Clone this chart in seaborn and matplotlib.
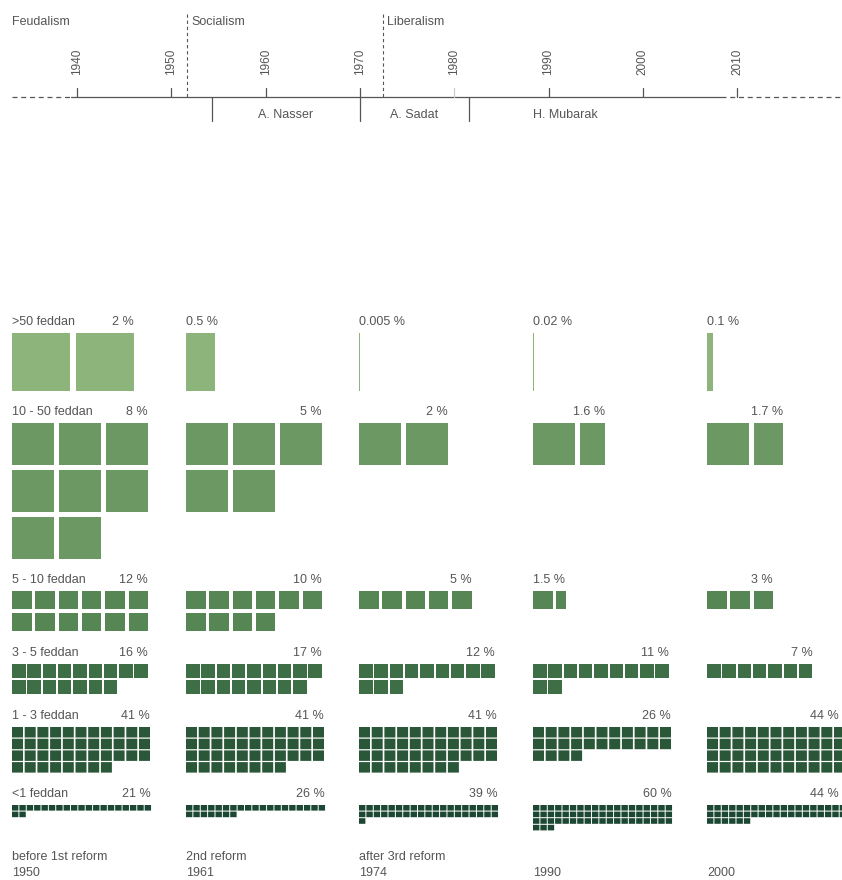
import matplotlib
matplotlib.use('Agg')
import matplotlib.pyplot as plt
from matplotlib.patches import Rectangle
import seaborn as sns

# ── data ────────────────────────────────────────────────────
eras = ['Feudalism', 'Socialism', 'Liberalism']
era_starts = [1936.0, 1951.7, 1972.4]
decades = [1940, 1950, 1960, 1970, 1980, 1990, 2000, 2010]
presidents = ['A. Nasser', 'A. Sadat', 'H. Mubarak']
pres_bounds = [1954.3, 1970.0, 1981.6, 2001.9]

period_names = ['before 1st reform', '2nd reform', 'after 3rd reform', '', '']
period_years = ['1950', '1961', '1974', '1990', '2000']

categories = ['>50 feddan', '10 - 50 feddan', '5 - 10 feddan',
              '3 - 5 feddan', '1 - 3 feddan', '<1 feddan']
share_over50 = [2, 0.5, 0.005, 0.02, 0.1]
share_10_50 = [8, 5, 2, 1.6, 1.7]
share_5_10 = [12, 10, 5, 1.5, 3]
share_3_5 = [16, 17, 12, 11, 7]
share_1_3 = [41, 41, 41, 26, 44]
share_under1 = [21, 26, 39, 60, 44]
shares = [share_over50, share_10_50, share_5_10, share_3_5, share_1_3, share_under1]

# ── layout (pixels) ─────────────────────────────────────────
col_x = [12, 186, 359, 533, 707]
# ncols, pitch x, pitch y, cell w, cell h, top
cells = [
    (2, 64.0, 64.0, 58.0, 58.0, 333),
    (3, 47.0, 47.0, 42.0, 42.0, 423),
    (6, 23.3, 22.0, 19.5, 18.0, 591),
    (9, 15.3, 16.5, 13.5, 14.0, 664),
    (11, 12.7, 11.7, 11.0, 10.5, 727),
    (19, 7.37, 6.6, 6.4, 5.6, 805),
]
colors = ['#8db57b', '#6c9864', '#558654', '#3d6e45', '#2a5738', '#1b4733']
text_c = '#555555'
line_c = '#555555'

sns.set_theme(style='white')
plt.rcParams['font.family'] = ['Liberation Sans', 'DejaVu Sans']

fig = plt.figure(figsize=(8.42, 8.80), dpi=100)
ax = fig.add_axes([0, 0, 1, 1])
ax.set_xlim(0, 842)
ax.set_ylim(880, 0)
ax.axis('off')

fs = 9


def yx(year):
    return 77 + (year - 1940) * 9.43


# ── timeline ────────────────────────────────────────────────
base_y = 97
ax.plot([12, yx(1939.4)], [base_y, base_y], color=line_c, lw=0.9, ls=(0, (4, 3)))
ax.plot([yx(1939.4), yx(2008.3)], [base_y, base_y], color=line_c, lw=0.9)
ax.plot([yx(2008.3), 842], [base_y, base_y], color=line_c, lw=0.9, ls=(0, (4, 3)))
for d in decades:
    c = '#cccccc' if d == 1980 else line_c
    ax.plot([yx(d), yx(d)], [base_y - 9, base_y], color=c, lw=0.9)
    ax.text(yx(d), 62, str(d), rotation=90, ha='center', va='center',
            fontsize=8.5, color=text_c)
for i, name in enumerate(eras):
    if i == 0:
        ax.text(12, 22, name, ha='left', va='center', fontsize=fs, color=text_c)
    else:
        x = yx(era_starts[i])
        ax.plot([x, x], [14, base_y], color=line_c, lw=0.8, ls=(0, (3, 2.5)))
        ax.text(x + 4, 22, name, ha='left', va='center', fontsize=fs, color=text_c)
for b in pres_bounds[:-1]:
    ax.plot([yx(b), yx(b)], [base_y, 121], color=line_c, lw=0.9)
for i, name in enumerate(presidents):
    xc = (yx(pres_bounds[i]) + yx(pres_bounds[i + 1])) / 2
    ax.text(xc, 115, name, ha='center', va='center', fontsize=fs, color=text_c)

# ── unit squares ────────────────────────────────────────────
for ci, (cat, vals) in enumerate(zip(categories, shares)):
    ncols, px, py, w, h, top = cells[ci]
    for pi, v in enumerate(vals):
        x0 = col_x[pi]
        full = int(v + 1e-9)
        frac = v - full
        n = full + (1 if frac > 1e-9 else 0)
        right = x0
        for k in range(n):
            r, c = divmod(k, ncols)
            cw = w if k < full else max(frac * w, 1.3)
            xx = x0 + c * px
            ax.add_patch(Rectangle((xx, top + r * py), cw, h,
                                   facecolor=colors[ci], edgecolor='none',
                                   snap=False if ci >= 4 else None))
            right = max(right, xx + cw)
        lab = f'{v:g} %'
        ty = top - 5
        if pi == 0:
            ax.text(x0, ty, cat, ha='left', va='bottom', fontsize=fs, color=text_c)
        if right - x0 < 50:
            ax.text(x0, ty, lab, ha='left', va='bottom', fontsize=fs, color=text_c)
        else:
            ax.text(min(right, 839), ty, lab, ha='right', va='bottom',
                    fontsize=fs, color=text_c)

for pi in range(len(col_x)):
    if period_names[pi]:
        ax.text(col_x[pi], 857, period_names[pi], ha='left', va='center',
                fontsize=fs, color=text_c)
    ax.text(col_x[pi], 873, period_years[pi], ha='left', va='center',
            fontsize=fs, color=text_c)

fig.savefig('out.png', dpi=100)
